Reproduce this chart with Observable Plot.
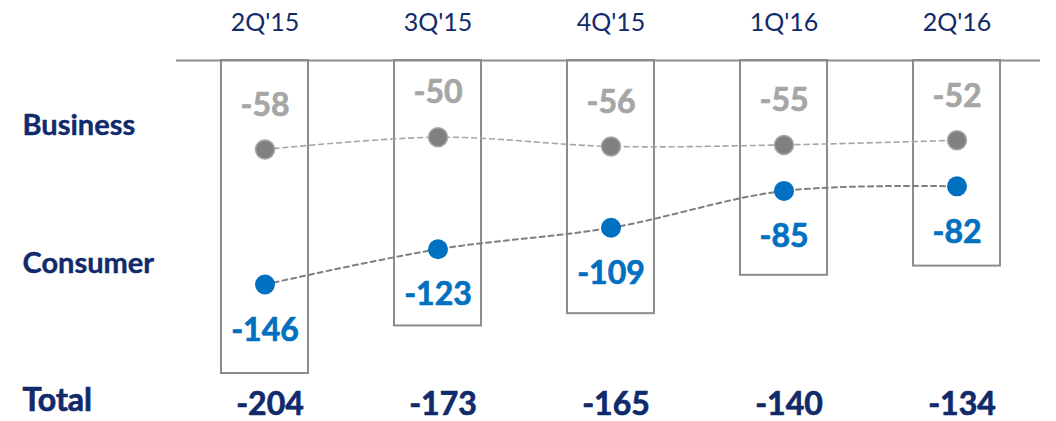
<!DOCTYPE html>
<html>
<head>
<meta charset="utf-8">
<script src="https://cdn.jsdelivr.net/npm/d3@7"></script>
<script src="https://cdn.jsdelivr.net/npm/@observablehq/plot@0.6"></script>
<style>
  html, body { margin: 0; padding: 0; background: #fff; }
  #chart svg { display: block; }
</style>
</head>
<body>
<div id="chart"></div>
<script>
const quarters = ["2Q'15", "3Q'15", "4Q'15", "1Q'16", "2Q'16"];
const business = [-58, -50, -56, -55, -52];
const consumer = [-146, -123, -109, -85, -82];
const totals = [-204, -173, -165, -140, -134];
const rowLabels = ["Business", "Consumer", "Total"];

const navy = "#102a6b";
const blue = "#0070c0";
const font = "Lato, 'Open Sans', sans-serif";

const rows = quarters.map((q, i) => ({q, business: business[i], consumer: consumer[i], total: totals[i]}));

const chart = Plot.plot({
  width: 1056,
  height: 421,
  marginTop: 60,
  marginBottom: 48,
  marginLeft: 176,
  marginRight: 16,
  style: {fontFamily: font, background: "#fff", overflow: "visible"},
  x: {type: "band", domain: quarters, range: [132.6, 1088.2], padding: 0.5, axis: null},
  y: {domain: [-204, 0], axis: null},
  marks: [
    Plot.rectY(rows, {x: "q", y1: 0, y2: "total", fill: "#fff", stroke: "#8c8c8c", strokeWidth: 2}),
    Plot.ruleY([0], {stroke: "#8c8c8c", strokeWidth: 2}),
    Plot.line(rows, {x: "q", y: "business", stroke: "#a6a6a6", strokeWidth: 1.6, strokeDasharray: "5,4", curve: "catmull-rom"}),
    Plot.line(rows, {x: "q", y: "consumer", stroke: "#7f7f7f", strokeWidth: 2, strokeDasharray: "5,4", curve: "catmull-rom"}),
    Plot.dot(rows, {x: "q", y: "business", r: 9.5, fill: "#808080", stroke: "#a6a6a6", strokeWidth: 1.5}),
    Plot.dot(rows, {x: "q", y: "consumer", r: 10, fill: blue}),
    Plot.text(rows, {x: "q", y: "business", text: d => String(d.business), dy: -44, fill: "#a6a6a6", stroke: "#a6a6a6", strokeWidth: 0.7, fontSize: 32, fontWeight: "bold"}),
    Plot.text(rows, {x: "q", y: "consumer", text: d => String(d.consumer), dy: 46, fill: blue, stroke: blue, strokeWidth: 0.7, fontSize: 32, fontWeight: "bold"}),
    Plot.text(rows, {x: "q", text: "q", frameAnchor: "top", lineAnchor: "middle", dy: -38, fill: navy, fontSize: 25}),
    Plot.text(rows, {x: "q", text: d => String(d.total), frameAnchor: "bottom", lineAnchor: "middle", dy: 31, dx: 5, fill: navy, stroke: navy, strokeWidth: 0.7, fontSize: 32, fontWeight: "bold"}),
    Plot.text([rowLabels[0]], {y: [business[0]], text: d => d, frameAnchor: "left", textAnchor: "start", lineAnchor: "middle", dx: -154, dy: -24, fill: navy, stroke: navy, strokeWidth: 0.4, fontSize: 29, fontWeight: "bold"}),
    Plot.text([rowLabels[1]], {y: [consumer[0]], text: d => d, frameAnchor: "left", textAnchor: "start", lineAnchor: "middle", dx: -154, dy: -21, fill: navy, stroke: navy, strokeWidth: 0.4, fontSize: 29, fontWeight: "bold"}),
    Plot.text([rowLabels[2]], {text: d => d, frameAnchor: "bottom-left", textAnchor: "start", lineAnchor: "middle", dx: -154, dy: 27, fill: navy, stroke: navy, strokeWidth: 0.7, fontSize: 32, fontWeight: "bold"})
  ]
});
document.getElementById("chart").appendChild(chart);
</script>
</body>
</html>
